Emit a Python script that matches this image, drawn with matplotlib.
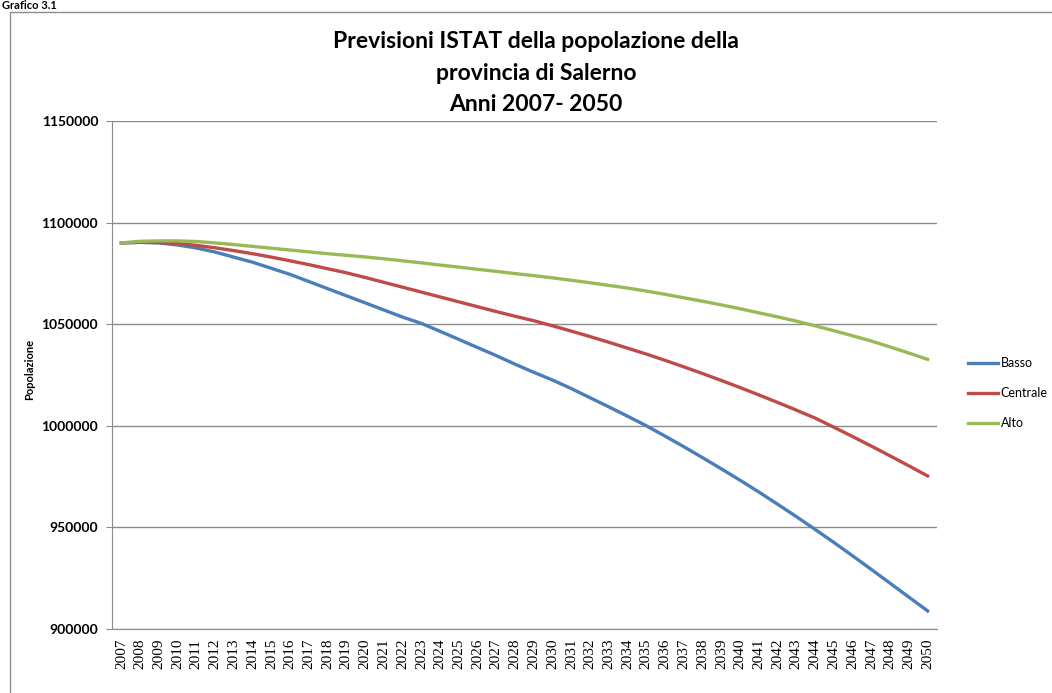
import matplotlib.pyplot as plt
import matplotlib.patches as patches

years = list(range(2007, 2051))

basso = [1090000, 1090300, 1090000, 1089000, 1087500, 1085500, 1083000, 1080500,
         1077500, 1074500, 1071000, 1067500, 1064000, 1060500, 1057000, 1053500,
         1050400, 1046500, 1042500, 1038500, 1034500, 1030300, 1026300, 1022500,
         1018300, 1013800, 1009300, 1004700, 1000000, 994900, 989700, 984300,
         978800, 973200, 967400, 961400, 955300, 949000, 942600, 936000,
         929300, 922500, 915700, 908900]

centrale = [1090000, 1090300, 1090200, 1089700, 1088800, 1087600, 1086200, 1084700,
            1083000, 1081200, 1079300, 1077300, 1075300, 1073000, 1070600, 1068200,
            1065800, 1063400, 1061000, 1058600, 1056200, 1053900, 1051700, 1049200,
            1046600, 1043900, 1041100, 1038200, 1035300, 1032200, 1029000, 1025700,
            1022300, 1018800, 1015200, 1011500, 1007700, 1003800, 999300, 994700,
            990000, 985200, 980300, 975300]

alto = [1090000, 1090800, 1091000, 1091000, 1090700, 1090000, 1089200, 1088300,
        1087400, 1086500, 1085600, 1084700, 1083900, 1083100, 1082200, 1081200,
        1080200, 1079100, 1078100, 1077000, 1076000, 1074900, 1073900, 1072800,
        1071600, 1070400, 1069100, 1067800, 1066300, 1064700, 1063000, 1061300,
        1059500, 1057600, 1055600, 1053600, 1051500, 1049200, 1046800, 1044300,
        1041700, 1038800, 1035800, 1032700]

yticks = [900000, 950000, 1000000, 1050000, 1100000, 1150000]

fig = plt.figure(figsize=(10.52, 6.93), dpi=100)

# outer chart border (cut by the image edge on right/bottom)
border = patches.Rectangle((10 / 1052, -0.1), 1.2, 1.1 - 12 / 693, transform=fig.transFigure,
                           fill=False, edgecolor='#8c8c8c', linewidth=1)
fig.add_artist(border)

fig.text(2 / 1052, 1.0, "Grafico 3.1", fontsize=8, fontweight='bold',
         family='Lato', va='top', ha='left')

ax = fig.add_axes([112 / 1052, 1 - 629 / 693, 825 / 1052, 508 / 693])

x = range(len(years))
ax.plot(x, basso, color='#4A7EBB', linewidth=2.4, label='Basso')
ax.plot(x, centrale, color='#BE4B48', linewidth=2.4, label='Centrale')
ax.plot(x, alto, color='#98B954', linewidth=2.4, label='Alto')

ax.set_xlim(-0.5, len(years) - 0.5)
ax.set_ylim(900000, 1150000)
ax.set_yticks(yticks)
ax.set_yticklabels([str(v) for v in yticks], fontsize=10, fontweight='bold', family='Lato')
ax.set_xticks(list(x))
ax.set_xticklabels([str(y) for y in years], rotation=90, fontsize=11, family='Liberation Serif')
ax.tick_params(axis='x', length=0, pad=7)
ax.tick_params(axis='y', length=4, color='#8c8c8c', pad=6)

ax.grid(axis='y', color='#8c8c8c', linewidth=1)
ax.set_axisbelow(True)
for s in ['top', 'right']:
    ax.spines[s].set_visible(False)
for s in ['left', 'bottom']:
    ax.spines[s].set_color('#8c8c8c')

fig.text(30 / 1052, 1 - 369 / 693, "Popolazione", rotation=90, fontsize=8, fontweight='bold',
         family='Lato', ha='center', va='center')

fig.text(536 / 1052, 1 - 73 / 693, "Previsioni ISTAT della popolazione della\nprovincia di Salerno\nAnni 2007- 2050",
         fontsize=16.5, fontweight='bold', family='Lato', ha='center', va='center', linespacing=1.62)

fig.legend(loc='upper left', bbox_to_anchor=(968 / 1052, 1 - 357 / 693), frameon=False,
           prop={'family': 'Lato', 'size': 9}, handlelength=2.4, handletextpad=0.2,
           labelspacing=1.45, borderaxespad=0, borderpad=0)

fig.savefig('out.png', dpi=100)
